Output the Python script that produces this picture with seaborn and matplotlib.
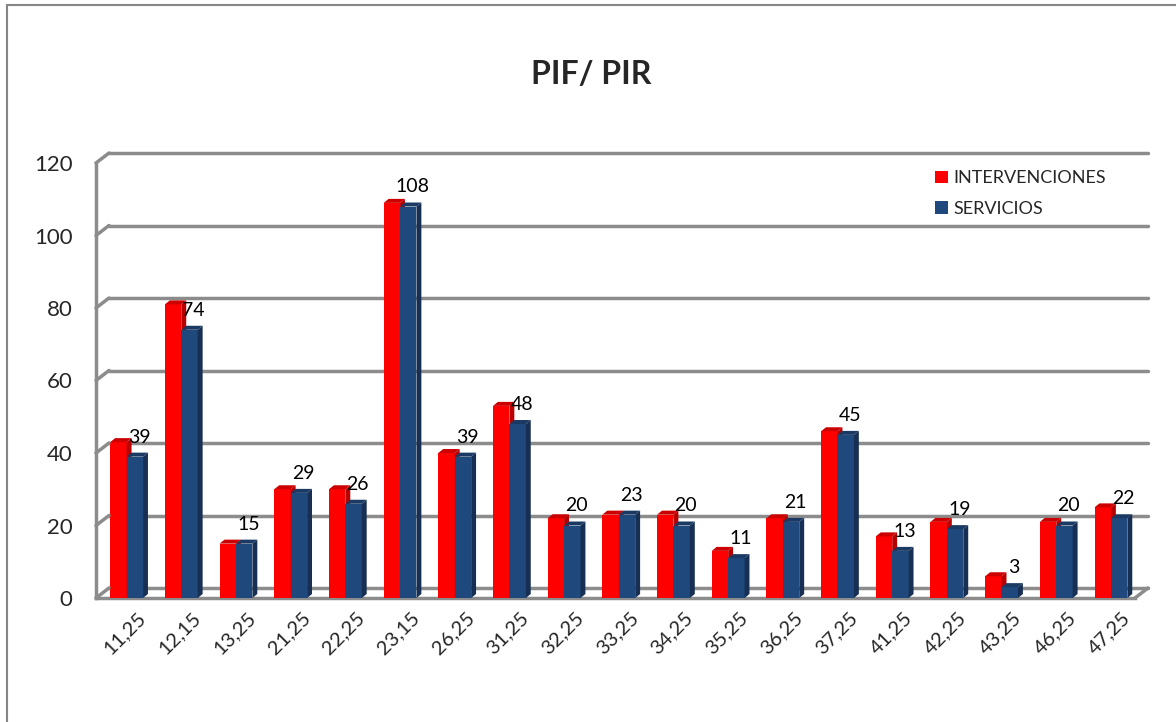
import numpy as np
import pandas as pd
import seaborn as sns
import matplotlib.pyplot as plt
from matplotlib.patches import Polygon, Rectangle
from matplotlib.transforms import ScaledTranslation, blended_transform_factory

categorias = ["11,25", "12,15", "13,25", "21,25", "22,25", "23,15", "26,25",
              "31,25", "32,25", "33,25", "34,25", "35,25", "36,25", "37,25",
              "41,25", "42,25", "43,25", "46,25", "47,25"]
intervenciones = [43, 81, 15, 30, 30, 109, 40, 53, 22, 23, 23, 13, 22, 46, 17, 21, 6, 21, 25]
servicios = [39, 74, 15, 29, 26, 108, 39, 48, 20, 23, 20, 11, 21, 45, 13, 19, 3, 20, 22]
series = ["INTERVENCIONES", "SERVICIOS"]
y_ticks = [0, 20, 40, 60, 80, 100, 120]

df = pd.DataFrame({
    "categoria": categorias * 2,
    "valor": intervenciones + servicios,
    "serie": [series[0]] * len(categorias) + [series[1]] * len(categorias),
})

sns.set_style("white")
plt.rcParams['font.family'] = ['Lato', 'DejaVu Sans']

RED, BLUE = "#FF0000", "#1F497D"
SIDE = {0: "#B80000", 1: "#162F52"}
TOP = {0: "#CC0000", 1: "#1A3A63"}
GRID = "#8C8C8C"

fig = plt.figure(figsize=(11.76, 7.22), dpi=100)
ax = fig.add_axes([96 / 1176, 124 / 722, (1135 - 96) / 1176, (598 - 163) / 722])

sns.barplot(data=df, x="categoria", y="valor", hue="serie", palette=[RED, BLUE],
            width=0.6, saturation=1, ax=ax, legend=True, linewidth=0, edgecolor="none")

ax.set_ylim(0, 120)
ax.set_xlim(-0.5, len(categorias) - 0.5)

# fake 3D depth on bars (nudged right like the original perspective)
dx, dy = 0.09, 1.1
for k, cont in enumerate(ax.containers):
    for p in cont.patches:
        p.set_zorder(3 + k)
        p.set_x(p.get_x() + 0.06)
        x0, w, h = p.get_x(), p.get_width(), p.get_height()
        x1 = x0 + w
        side = Polygon([(x1, 0), (x1 + dx, dy), (x1 + dx, h + dy), (x1, h)],
                       closed=True, facecolor=SIDE[k], edgecolor="none", zorder=3.5 + k)
        top = Polygon([(x0, h), (x1, h), (x1 + dx, h + dy), (x0 + dx, h + dy)],
                      closed=True, facecolor=TOP[k], edgecolor="none", zorder=3.5 + k)
        ax.add_patch(side)
        ax.add_patch(top)

# data labels only for SERVICIOS
for p, v in zip(ax.containers[1].patches, servicios):
    ax.annotate(str(v), (p.get_x() + p.get_width() / 2, p.get_height()),
                xytext=(3, 8), textcoords="offset points", ha="center", va="bottom",
                fontsize=14, color="black", zorder=10)

# back-wall gridlines shifted up/right
shift = ScaledTranslation(13 / 100, 10 / 100, fig.dpi_scale_trans)
blend = blended_transform_factory(ax.transAxes, ax.transData)
for yv in y_ticks:
    ln = ax.axhline(yv, color=GRID, lw=2.5, zorder=0.5, clip_on=False)
    ln.set_transform(ln.get_transform() + shift)
    ax.annotate("", xy=(0, yv), xycoords=blend, xytext=(9.36, 7.2), textcoords="offset points",
                arrowprops=dict(arrowstyle="-", color=GRID, lw=2.5, shrinkA=0, shrinkB=0),
                annotation_clip=False)
ax.annotate("", xy=(1, 0), xycoords=blend, xytext=(9.36, 7.2), textcoords="offset points",
            arrowprops=dict(arrowstyle="-", color=GRID, lw=2.5, shrinkA=0, shrinkB=0),
            annotation_clip=False)

for s in ["top", "right"]:
    ax.spines[s].set_visible(False)
for s in ["left", "bottom"]:
    ax.spines[s].set_color(GRID)
    ax.spines[s].set_linewidth(2.5)

ax.set_yticks(y_ticks)
ax.tick_params(axis="y", length=7, width=2, color=GRID, labelsize=16, pad=10)
ax.set_xticks(range(len(categorias)))
ax.set_xticklabels(categorias, rotation=45, ha="right", rotation_mode="anchor", fontsize=14.5)
ax.set_xticks(np.arange(-0.5, len(categorias), 1), minor=True)
ax.tick_params(axis="x", which="major", length=0, pad=8)
ax.tick_params(axis="x", which="minor", length=8, width=2, color=GRID)
lab_shift = ScaledTranslation(14 / 100, 0, fig.dpi_scale_trans)
for lab in ax.get_xticklabels():
    lab.set_transform(lab.get_transform() + lab_shift)
ax.set_xlabel("")
ax.set_ylabel("")

handles, labels = ax.get_legend_handles_labels()
ax.legend_.remove()
fig.legend(handles, labels, loc="upper left", bbox_to_anchor=(919 / 1176, 1 - 154 / 722),
           frameon=False, fontsize=13, handlelength=0.7, handleheight=0.7,
           handletextpad=0.3, labelspacing=0.8)

fig.text(591 / 1176, 1 - 75 / 722, "PIF/ PIR", ha="center", va="center",
         fontsize=23, fontweight="bold")

fig.patches.append(Rectangle((7 / 1176, -0.05), 1.2, 1 - 5 / 722 + 0.05,
                             transform=fig.transFigure, fill=False,
                             edgecolor="#868686", lw=1.5))

fig.savefig("out.png", dpi=100)
